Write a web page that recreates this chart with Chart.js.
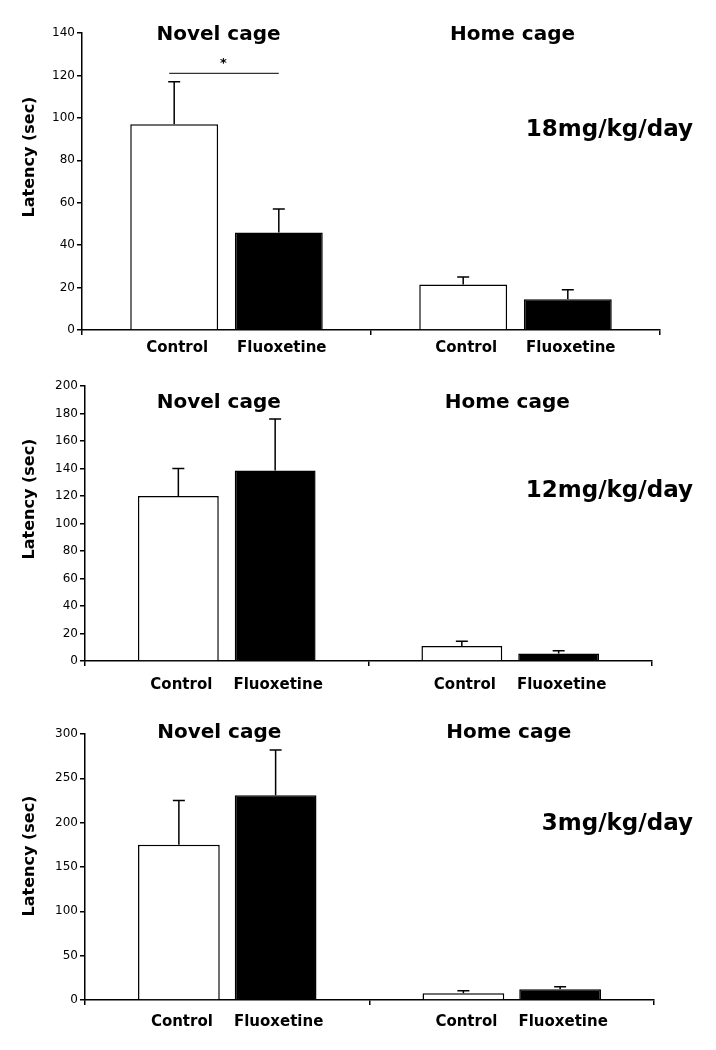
<!DOCTYPE html>
<html>
<head>
<meta charset="utf-8">
<script src="https://cdn.jsdelivr.net/npm/chart.js@4.4.1/dist/chart.umd.min.js"></script>
<style>
  body { margin: 0; background: #fff; }
  canvas { position: absolute; left: 0; }
</style>
</head>
<body>
<canvas id="dose18" width="716" height="360" style="top:0px"></canvas>
<canvas id="dose12" width="716" height="345" style="top:360px"></canvas>
<canvas id="dose3" width="716" height="345" style="top:705px"></canvas>
<script>
const groups = ['Novel cage', 'Home cage'];
const treatments = ['Control', 'Fluoxetine'];
const doseLabels = ['18mg/kg/day', '12mg/kg/day', '3mg/kg/day'];

// mean latency (sec) and SEM, [novel, home]
const control18 = [97, 21.5];
const controlErr18 = [20, 3.5];
const fluox18 = [46, 14.5];
const fluoxErr18 = [11, 4.5];

const control12 = [120, 11];
const controlErr12 = [20, 3.3];
const fluox12 = [138.5, 5.5];
const fluoxErr12 = [37.5, 2];

const control3 = [175, 7.5];
const controlErr3 = [50, 3];
const fluox3 = [231, 12];
const fluoxErr3 = [51, 3];

const yMax = [140, 200, 300];
const yStep = [20, 20, 50];
const sigLevel18 = 121;

// chart area boxes inside each canvas
const panels = [
  { id: 'dose18', h: 360, left: 82, right: 660, top: 33, bottom: 330, cat: 0.724, bar: 0.84,
    labelDy: 18, titleDy: 2, doseY: 130, yTitleY: 157, yTitleX: 30 },
  { id: 'dose12', h: 345, left: 85, right: 652, top: 26, bottom: 301, cat: 0.683, bar: 0.835,
    labelDy: 24, titleDy: 17, doseY: 131, yTitleY: 139, yTitleX: 30 },
  { id: 'dose3', h: 345, left: 85, right: 654, top: 29, bottom: 295, cat: 0.68, bar: 0.845,
    labelDy: 22, titleDy: -1, doseY: 119, yTitleY: 151, yTitleX: 30 }
];

const controls = [control18, control12, control3];
const controlErrs = [controlErr18, controlErr12, controlErr3];
const fluoxs = [fluox18, fluox12, fluox3];
const fluoxErrs = [fluoxErr18, fluoxErr12, fluoxErr3];

const boldFont = '"DejaVu Sans", sans-serif';

function panelText(i) {
  const p = panels[i];
  return {
    id: 'panelText' + i,
    afterDatasetsDraw(chart) {
      const ctx = chart.ctx;
      const y = chart.scales.y;
      const x = chart.scales.x;
      const area = chart.chartArea;
      ctx.save();
      ctx.strokeStyle = '#000';
      ctx.fillStyle = '#000';
      ctx.lineWidth = 1.5;

      // error bars (upper only) and treatment labels
      chart.data.datasets.forEach((ds, d) => {
        chart.getDatasetMeta(d).data.forEach((bar, j) => {
          const top = y.getPixelForValue(ds.data[j] + ds.errors[j]);
          ctx.beginPath();
          ctx.moveTo(bar.x, bar.y);
          ctx.lineTo(bar.x, top);
          ctx.moveTo(bar.x - 6, top);
          ctx.lineTo(bar.x + 6, top);
          ctx.stroke();

          ctx.font = 'bold 15px ' + boldFont;
          ctx.textAlign = 'center';
          ctx.textBaseline = 'middle';
          ctx.fillText(ds.label, bar.x + 3, area.bottom + p.labelDy);
        });
      });

      // group titles
      ctx.font = 'bold 20px ' + boldFont;
      ctx.textAlign = 'center';
      ctx.textBaseline = 'middle';
      groups.forEach((g, j) => {
        const cx = x.getPixelForValue(j) - (j === 0 ? 8 : 3);
        ctx.fillText(g, cx, area.top + p.titleDy);
      });

      // dose label
      ctx.font = 'bold 23px ' + boldFont;
      ctx.textAlign = 'right';
      ctx.fillText(doseLabels[i], 693, p.doseY);

      // y axis title
      ctx.save();
      ctx.translate(p.yTitleX, p.yTitleY);
      ctx.rotate(-Math.PI / 2);
      ctx.font = 'bold 16px ' + boldFont;
      ctx.textAlign = 'center';
      ctx.fillText('Latency (sec)', 0, 0);
      ctx.restore();

      // significance bracket
      if (i === 0) {
        const a = chart.getDatasetMeta(0).data[0];
        const b = chart.getDatasetMeta(1).data[0];
        const ly = y.getPixelForValue(sigLevel18);
        ctx.lineWidth = 1;
        ctx.beginPath();
        ctx.moveTo(a.x - 5, ly);
        ctx.lineTo(b.x, ly);
        ctx.stroke();
        ctx.font = 'bold 13px ' + boldFont;
        ctx.textAlign = 'center';
        ctx.fillText('*', (a.x + b.x) / 2 - 3, ly - 10);
      }
      ctx.restore();
    }
  };
}

panels.forEach((p, i) => {
  new Chart(document.getElementById(p.id), {
    type: 'bar',
    data: {
      labels: groups,
      datasets: [
        {
          label: treatments[0],
          data: controls[i],
          errors: controlErrs[i],
          backgroundColor: '#fff',
          borderColor: '#000',
          borderWidth: 1.5,
          borderSkipped: 'bottom'
        },
        {
          label: treatments[1],
          data: fluoxs[i],
          errors: fluoxErrs[i],
          backgroundColor: '#000',
          borderColor: '#000',
          borderWidth: 1.5,
          borderSkipped: 'bottom'
        }
      ]
    },
    options: {
      responsive: false,
      animation: false,
      devicePixelRatio: 1,
      categoryPercentage: p.cat,
      barPercentage: p.bar,
      layout: {
        padding: { left: 0, top: p.top, right: 716 - p.right, bottom: 0 }
      },
      plugins: {
        legend: { display: false },
        tooltip: { enabled: false }
      },
      scales: {
        x: {
          grid: {
            display: true,
            drawOnChartArea: false,
            drawTicks: true,
            tickLength: 5,
            color: '#000',
            lineWidth: 1.5,
            offset: true
          },
          border: { color: '#000', width: 1.5 },
          ticks: { display: false },
          afterFit(scale) { scale.height = p.h - p.bottom; }
        },
        y: {
          min: 0,
          max: yMax[i],
          grid: {
            display: true,
            drawOnChartArea: false,
            drawTicks: true,
            tickLength: 5,
            color: '#000',
            lineWidth: 1.5
          },
          border: { color: '#000', width: 1.5 },
          ticks: {
            stepSize: yStep[i],
            padding: 2,
            color: '#000',
            font: { family: '"DejaVu Sans", sans-serif', size: 12 }
          },
          afterFit(scale) { scale.width = p.left; }
        }
      }
    },
    plugins: [panelText(i)]
  });
});
</script>
</body>
</html>
